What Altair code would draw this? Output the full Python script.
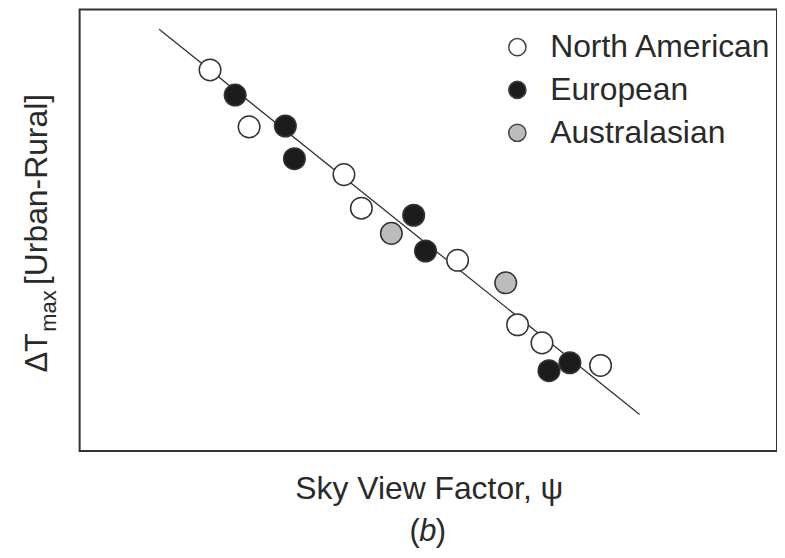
import altair as alt
import pandas as pd

# ---- data (normalised axes, no tick labels shown) ----
regions = ["North American", "European", "Australasian"]
fills = ["#ffffff", "#1c1c1c", "#bcbcbc"]

na_svf = [0.187, 0.243, 0.379, 0.404, 0.542, 0.628, 0.663, 0.747]
na_dt = [0.863, 0.734, 0.626, 0.550, 0.432, 0.286, 0.245, 0.194]
eu_svf = [0.223, 0.295, 0.308, 0.479, 0.496, 0.673, 0.703]
eu_dt = [0.806, 0.736, 0.662, 0.534, 0.453, 0.182, 0.200]
au_svf = [0.447, 0.611]
au_dt = [0.493, 0.381]

fit_svf = [0.114, 0.803]
fit_dt = [0.955, 0.083]

x_title = "Sky View Factor, ψ"
y_title_parts = ["ΔT", "max", "[Urban-Rural]"]
panel_parts = ["(", "b", ")"]

FONT = "Liberation Sans"
INK = "#2a2a2a"

pts = pd.DataFrame({
    "svf": na_svf + eu_svf + au_svf,
    "dT": na_dt + eu_dt + au_dt,
    "region": [regions[0]] * len(na_svf) + [regions[1]] * len(eu_svf) + [regions[2]] * len(au_svf),
})
fit = pd.DataFrame({"svf": fit_svf, "dT": fit_dt})

xs = alt.Scale(domain=[0, 1], nice=False, zero=False)
ys = alt.Scale(domain=[0, 1], nice=False, zero=False)

x_axis = alt.Axis(
    title=x_title, labels=False, ticks=False, domain=False, grid=False,
    titleFont=FONT, titleFontSize=32, titleFontWeight="normal", titleColor=INK,
    titleBaseline="alphabetic", titleY=48, titleX=351,
)

line = alt.Chart(fit).mark_line(color="#333333", strokeWidth=1.3).encode(
    x=alt.X("svf:Q", scale=xs, axis=x_axis),
    y=alt.Y("dT:Q", scale=ys, axis=None),
)

points = alt.Chart(pts).mark_point(
    shape="circle", filled=True, size=470, stroke="#333333", strokeWidth=1.5, opacity=1
).encode(
    x=alt.X("svf:Q", scale=xs, axis=x_axis),
    y=alt.Y("dT:Q", scale=ys, axis=None),
    fill=alt.Fill(
        "region:N",
        scale=alt.Scale(domain=regions, range=fills),
        legend=alt.Legend(
            title=None, orient="none", legendX=424, legendY=22,
            symbolType="circle", symbolSize=300, symbolStrokeColor="#444444",
            symbolStrokeWidth=1.5, symbolOpacity=1,
            labelFont=FONT, labelFontSize=32, labelColor=INK, labelOffset=17,
            rowPadding=11, labelLimit=400,
        ),
    ),
    order=alt.Order("svf:Q"),
)

def txt(s, x, y, size=31, style="normal", align="left", angle=0):
    kw = dict(text=s, font=FONT, fontSize=size, color=INK, align=align,
              baseline="alphabetic", fontStyle=style)
    if angle:
        kw["angle"] = angle
    return alt.Chart(pd.DataFrame({"k": [0]})).mark_text(**kw).encode(
        x=alt.value(x), y=alt.value(y)
    )

ytitle = (
    txt(y_title_parts[0], -33, 365, angle=270)
    + txt(y_title_parts[1], -24, 324, size=22, angle=270)
    + txt(y_title_parts[2], -33, 277, size=32, angle=270)
)
panel = (
    txt(panel_parts[0], 342, 534, align="right")
    + txt(panel_parts[1], 350, 534, style="italic", align="center")
    + txt(panel_parts[2], 358, 534, align="left")
)

chart = alt.layer(line, points, ytitle, panel).properties(
    width=701, height=444,
    autosize=alt.AutoSizeParams(type="none"),
    padding={"left": 72, "top": 0, "right": 0, "bottom": 98},
    background="white",
).configure_view(stroke="#333333", strokeWidth=2)

chart.save("out.html", embed_options={"renderer": "svg", "actions": False})
